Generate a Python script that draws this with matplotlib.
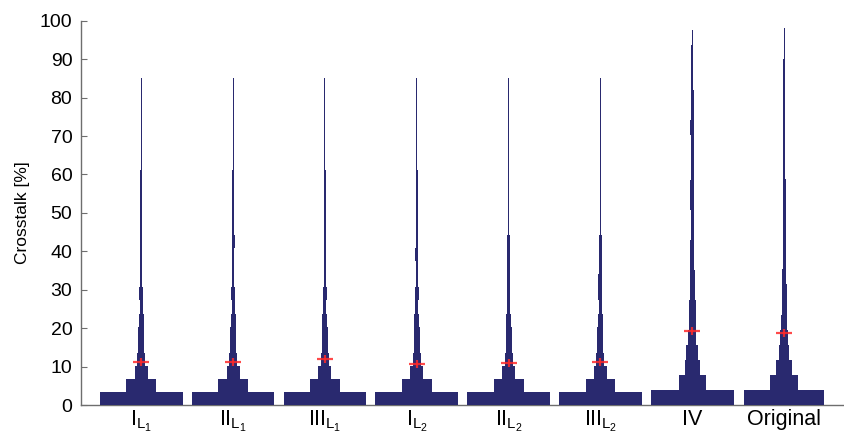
import numpy as np
import matplotlib
matplotlib.use("Agg")
import matplotlib.pyplot as plt

plt.rcParams['font.family'] = ['Liberation Sans', 'DejaVu Sans']
plt.rcParams['mathtext.fontset'] = 'custom'
plt.rcParams['mathtext.rm'] = 'Liberation Sans'
plt.rcParams['mathtext.it'] = 'Liberation Sans:italic'

# ---- data ----
categories = [r'$\mathrm{I}_{\mathrm{L}_1}$', r'$\mathrm{II}_{\mathrm{L}_1}$', r'$\mathrm{III}_{\mathrm{L}_1}$',
              r'$\mathrm{I}_{\mathrm{L}_2}$', r'$\mathrm{II}_{\mathrm{L}_2}$', r'$\mathrm{III}_{\mathrm{L}_2}$',
              'IV', 'Original']

# histogram top (max crosstalk, %) per group
hist_max = [85, 85, 85, 85, 85, 85, 97.7, 98]

# relative bin counts (25 equal bins from 0 to hist_max)
counts_I_L1 = [83, 30, 13, 8, 6, 6, 5, 3, 4, 2.3, 2.3, 2.3, 2.3, 1.7, 1.7, 1.7, 1.7, 1.7, 1, 1, 1, 1, 1, 1, 1]
counts_II_L1 = [83, 30, 13, 8, 6, 6, 5, 3, 3.5, 2.3, 2.3, 2.3, 3, 2.3, 1.7, 1.7, 1.7, 1.7, 1, 1, 1, 1, 1, 1, 1]
counts_III_L1 = [83, 30, 13, 8, 6, 6, 5, 3, 3.5, 2.3, 2.3, 2.3, 2.3, 1.7, 1.7, 2.3, 1.7, 1.3, 1, 1, 1, 1, 1, 1, 1]
counts_I_L2 = [83, 30, 13, 8, 6, 6, 5, 3, 3.5, 2.3, 2.3, 3, 2.3, 1.7, 1.7, 1.7, 1.7, 1.7, 1, 1, 1, 1, 1, 1, 1]
counts_II_L2 = [83, 30, 13, 8, 6, 6, 5, 3, 3.5, 2.3, 2.3, 3, 2.3, 1.7, 1.7, 1.7, 1.7, 1.7, 1, 1, 1, 1, 1, 1, 1]
counts_III_L2 = [83, 30, 13, 8, 6, 6, 5, 3, 4, 4, 2.3, 2.3, 3, 1.3, 1.3, 1.3, 1.3, 1.3, 1, 1, 1, 1, 1, 1, 1]
counts_IV = [83, 27, 15, 12, 7.7, 6.5, 6.5, 5, 5, 4, 4, 3.3, 3.3, 4.3, 4, 3, 3, 3, 4, 3, 3, 2, 2, 2, 1]
counts_Original = [80.7, 27.7, 15.7, 10, 8, 6, 5, 5, 4.5, 3, 3, 3, 3, 3, 3, 2.3, 2.3, 2.3, 2.3, 2.3, 2.3, 1.3, 1.3, 1, 1]

all_counts = [counts_I_L1, counts_II_L1, counts_III_L1, counts_I_L2, counts_II_L2,
              counts_III_L2, counts_IV, counts_Original]

# mean crosstalk (red cross)
means = [11.2, 11.3, 12.0, 10.8, 11.0, 11.2, 19.2, 18.7]

yticks = [0, 10, 20, 30, 40, 50, 60, 70, 80, 90, 100]

# ---- plot ----
bar_color = '#29296f'
fig = plt.figure(figsize=(8.45, 4.37), dpi=100)
ax = fig.add_axes([0.0955, 0.0732, 0.902, 0.8794])

gmax = max(max(c) for c in all_counts)
for i, (cnt, top) in enumerate(zip(all_counts, hist_max)):
    x = i + 1
    cnt = np.asarray(cnt, dtype=float)
    edges = np.linspace(0, top, len(cnt) + 1)
    w = cnt / gmax * 0.9
    ax.bar(np.full(len(cnt), x), height=np.diff(edges), bottom=edges[:-1], width=w,
           color=bar_color, edgecolor='none', linewidth=0, zorder=3)

xs = np.arange(1, len(categories) + 1)
ax.plot(xs, means, linestyle='none', marker='_', markersize=11.5, markeredgewidth=1.6,
        color='#ff2a2a', alpha=0.85, zorder=4)
ax.plot(xs, means, linestyle='none', marker='|', markersize=5.5, markeredgewidth=1.6,
        color='#ff2a2a', alpha=0.85, zorder=4)

ax.set_xlim(0.34, 8.64)
ax.set_ylim(0, 100)
ax.set_yticks(yticks)
ax.set_xticks(xs)
ax.set_xticklabels(categories)
ax.set_ylabel('Crosstalk [%]', fontsize=12.5, labelpad=7)

for s in ['top', 'right']:
    ax.spines[s].set_visible(False)
for s in ['left', 'bottom']:
    ax.spines[s].set_color('#6e6e6e')
    ax.spines[s].set_linewidth(1.0)
ax.tick_params(axis='y', direction='in', length=4.5, color='#6e6e6e', labelsize=14, pad=6)
ax.tick_params(axis='x', direction='in', length=4.5, color='#6e6e6e', labelsize=15.5, pad=3)

fig.savefig('out.png', dpi=100)
